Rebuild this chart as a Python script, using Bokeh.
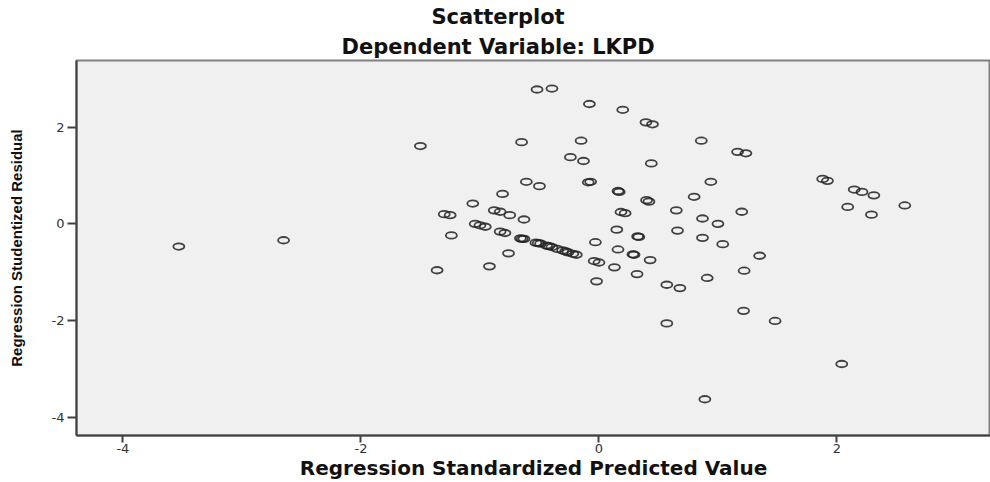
from bokeh.plotting import figure
from bokeh.models import Range1d, FixedTicker, Title
from bokeh.embed import file_html
from bokeh.resources import INLINE

# Regression standardized predicted value (x) and studentized residual (y)
pred = [
    -3.53, -2.65, -1.50, -1.36,
    -1.30, -1.25, -1.24, -1.06, -1.04, -1.00, -0.955, -0.92, -0.88, -0.83, -0.75,
    -0.83, -0.79, -0.81, -0.76, -0.65, -0.63, -0.61, -0.50, -0.52, -0.395,
    -0.66, -0.645, -0.63, -0.53, -0.51, -0.49, -0.44, -0.42, -0.395, -0.35, -0.305,
    -0.28, -0.26, -0.22, -0.19,
    -0.08, 0.20, 0.395, 0.45, -0.15, -0.24, -0.13, 0.44, -0.09, -0.07, 0.16, 0.17,
    0.40, 0.42, 0.185, 0.22, 0.15, 0.325, 0.335, -0.03, 0.16, 0.285, 0.295, 0.43,
    -0.04, 0.00, 0.13, 0.32, -0.02,
    0.86, 1.165, 1.235, 0.94, 0.80, 0.65, 0.87, 1.00, 1.20, 0.66, 0.87, 1.04, 1.35,
    1.22, 0.91, 0.57, 0.68, 1.215, 1.48, 0.57, 0.89, 2.04,
    1.88, 1.92, 2.145, 2.21, 2.31, 2.57, 2.09, 2.29,
]
resid = [
    -0.47, -0.34, 1.61, -0.96,
    0.20, 0.18, -0.24, 0.42, 0.00, -0.03, -0.06, -0.88, 0.28, 0.25, 0.18,
    -0.16, -0.19, 0.62, -0.61, 1.69, 0.09, 0.87, 0.78, 2.78, 2.80,
    -0.30, -0.31, -0.31, -0.39, -0.40, -0.41, -0.45, -0.46, -0.48, -0.52, -0.55,
    -0.57, -0.59, -0.62, -0.64,
    2.48, 2.36, 2.10, 2.06, 1.72, 1.38, 1.30, 1.25, 0.86, 0.87, 0.68, 0.66,
    0.49, 0.46, 0.245, 0.22, -0.12, -0.26, -0.27, -0.38, -0.53, -0.63, -0.64, -0.75,
    -0.77, -0.80, -0.90, -1.04, -1.19,
    1.72, 1.49, 1.46, 0.87, 0.56, 0.28, 0.11, 0.00, 0.25, -0.14, -0.29, -0.42, -0.66,
    -0.97, -1.12, -1.26, -1.33, -1.80, -2.01, -2.06, -3.63, -2.90,
    0.93, 0.89, 0.71, 0.66, 0.59, 0.38, 0.35, 0.19,
]
tick_values = [-4, -2, 0, 2]
tick_labels = {-4: "-4", -2: "-2", 0: "0", 2: "2"}

p = figure(width=990, height=482, output_backend="svg", toolbar_location=None,
           x_range=Range1d(-4.39, 3.29), y_range=Range1d(-4.38, 3.38),
           min_border_left=76, min_border_right=0, min_border_bottom=40,
           min_border_top=20)

p.background_fill_color = "#f0f0f0"
p.border_fill_color = "white"
p.outline_line_color = "#808080"
p.outline_line_width = 2
p.grid.visible = False

sub = Title(text="Dependent Variable: LKPD", align="left", text_font="DejaVu Sans",
            text_font_style="bold", text_font_size="21px", text_color="#111111",
            standoff=4, offset=265)
main = Title(text="Scatterplot", align="left", text_font="DejaVu Sans",
             text_font_style="bold", text_font_size="21px", text_color="#111111",
             standoff=4, offset=355)
p.add_layout(sub, "above")
p.add_layout(main, "above")

for ax in (p.xaxis[0], p.yaxis[0]):
    ax.ticker = FixedTicker(ticks=tick_values)
    ax.major_label_overrides = tick_labels
    ax.minor_tick_line_color = None
    ax.major_tick_in = 0
    ax.axis_line_color = "#404040"
    ax.axis_line_width = 2
    ax.major_tick_line_color = "#404040"
    ax.major_tick_line_width = 2
    ax.major_label_text_font = "DejaVu Sans"
    ax.major_label_text_font_size = "13px"
    ax.major_label_text_color = "#333333"
    ax.axis_label_text_font_style = "bold"
    ax.axis_label_text_color = "#111111"

p.xaxis.major_tick_out = 7
p.xaxis.major_label_standoff = 1
p.xaxis.axis_label = "Regression Standardized Predicted Value"
p.xaxis.axis_label_text_font = "DejaVu Sans"
p.xaxis.axis_label_text_font_size = "20px"
p.xaxis.axis_label_standoff = 0

p.yaxis.major_tick_out = 9
p.yaxis.major_label_standoff = 3
p.yaxis.axis_label = "Regression Studentized Residual"
p.yaxis.axis_label_text_font = "Liberation Sans"
p.yaxis.axis_label_text_font_size = "15px"
p.yaxis.axis_label_standoff = 24

p.ellipse(x=pred, y=resid, width=11, height=6.5, width_units="screen",
          height_units="screen", fill_color=None, line_color="#222222",
          line_alpha=0.85, line_width=1.8)

open("out.html", "w").write(file_html(p, INLINE))
